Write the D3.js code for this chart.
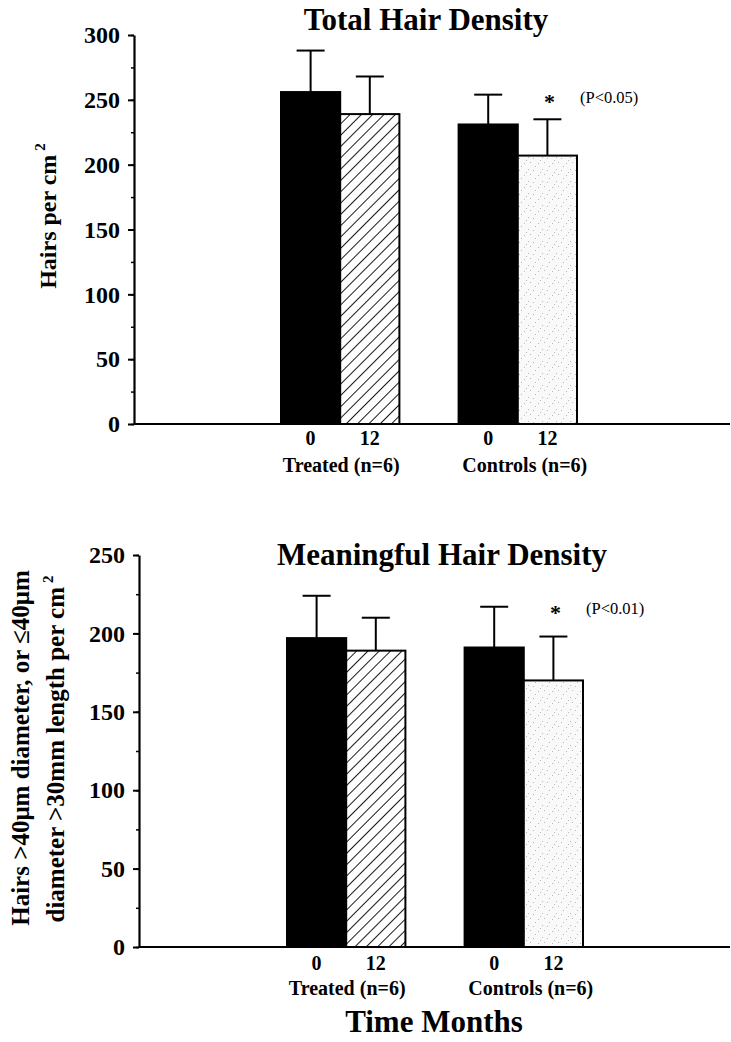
<!DOCTYPE html>
<html>
<head>
<meta charset="utf-8">
<script src="https://cdn.jsdelivr.net/npm/d3@7"></script>
<style>
  body { margin: 0; background: #fff; }
  svg text { font-family: "Liberation Serif", "Times New Roman", serif; }
</style>
</head>
<body>
<div id="chart"></div>
<script>
// slots along the x axis; "gap" keeps the space between the two groups
const slots = ['T0', 'T12', 'gap', 'C0', 'C12'];
const barKeys = ['T0', 'T12', 'C0', 'C12'];
const barStyles = ['solid', 'hatch', 'solid', 'dots'];
const monthLabels = ['0', '12', '0', '12'];
const groupLabels = ['Treated (n=6)', 'Controls (n=6)'];

const totalMeans = [256, 239, 231, 207];
const totalUpper = [288, 268, 254, 235];
const totalP = '(P<0.05)';

const meaningMeans = [197, 189, 191, 170];
const meaningUpper = [224, 210, 217, 198];
const meaningP = '(P<0.01)';

const W = 731, H = 1042;

const svg = d3.select('#chart').append('svg')
    .attr('width', W)
    .attr('height', H);

const defs = svg.append('defs');

// diagonal hatch
const hatch = defs.append('pattern')
    .attr('id', 'hatch')
    .attr('patternUnits', 'userSpaceOnUse')
    .attr('width', 8)
    .attr('height', 8)
    .attr('patternTransform', 'rotate(45)');
hatch.append('rect').attr('width', 8).attr('height', 8).attr('fill', '#fff');
hatch.append('line')
    .attr('x1', 0).attr('y1', 0).attr('x2', 0).attr('y2', 8)
    .attr('stroke', '#000').attr('stroke-width', 1.8);

// light stipple
const dots = defs.append('pattern')
    .attr('id', 'dots')
    .attr('patternUnits', 'userSpaceOnUse')
    .attr('width', 14)
    .attr('height', 12);
dots.append('rect').attr('width', 14).attr('height', 12).attr('fill', '#f9f9f9');
[[1, 2], [6, 7], [10, 1], [12, 6], [3, 10], [8, 4]].forEach(p => {
    dots.append('rect')
        .attr('x', p[0]).attr('y', p[1])
        .attr('width', 1).attr('height', 1)
        .attr('fill', '#b8b8b8');
});

const fillFor = s => s === 'solid' ? '#000' : s === 'hatch' ? 'url(#hatch)' : 'url(#dots)';

function drawPanel(cfg) {
    const g = svg.append('g');

    const x = d3.scaleBand()
        .domain(slots)
        .range(cfg.barRange)
        .paddingInner(0)
        .paddingOuter(0);

    const y = d3.scaleLinear()
        .domain([0, cfg.yMax])
        .range([cfg.y0, cfg.yTop]);

    // minor ticks every 25
    g.append('g')
        .attr('transform', `translate(${cfg.axisX},0)`)
        .call(d3.axisLeft(y).tickValues(d3.range(0, cfg.yMax + 1, 25)).tickSize(3).tickFormat(''))
        .call(a => a.select('.domain').remove())
        .call(a => a.selectAll('line').attr('stroke-width', 1.5));

    // major ticks every 50
    const yAxis = g.append('g')
        .attr('transform', `translate(${cfg.axisX},0)`)
        .call(d3.axisLeft(y).tickValues(d3.range(0, cfg.yMax + 1, 50)).tickSize(6).tickSizeOuter(0).tickPadding(8));
    yAxis.select('.domain').attr('stroke-width', 2.2);
    yAxis.selectAll('line').attr('stroke-width', 2);
    yAxis.selectAll('text')
        .attr('font-size', 24)
        .attr('font-weight', 'bold')
        .attr('fill', '#000');

    // bars
    g.selectAll('.bar')
        .data(barKeys)
      .enter().append('rect')
        .attr('class', 'bar')
        .attr('x', d => x(d))
        .attr('y', (d, i) => y(cfg.means[i]))
        .attr('width', x.bandwidth())
        .attr('height', (d, i) => y(0) - y(cfg.means[i]))
        .attr('fill', (d, i) => fillFor(barStyles[i]))
        .attr('stroke', '#000')
        .attr('stroke-width', 2);

    // error bars
    const eb = g.selectAll('.err')
        .data(barKeys)
      .enter().append('g')
        .attr('class', 'err')
        .attr('stroke', '#000')
        .attr('stroke-width', 2);
    eb.append('line')
        .attr('x1', d => x(d) + x.bandwidth() / 2)
        .attr('x2', d => x(d) + x.bandwidth() / 2)
        .attr('y1', (d, i) => y(cfg.means[i]))
        .attr('y2', (d, i) => y(cfg.upper[i]));
    eb.append('line')
        .attr('x1', d => x(d) + x.bandwidth() / 2 - 14)
        .attr('x2', d => x(d) + x.bandwidth() / 2 + 14)
        .attr('y1', (d, i) => y(cfg.upper[i]))
        .attr('y2', (d, i) => y(cfg.upper[i]));

    // x baseline
    g.append('line')
        .attr('x1', cfg.axisX).attr('x2', 730)
        .attr('y1', y(0)).attr('y2', y(0))
        .attr('stroke', '#000').attr('stroke-width', 2.2);

    // month labels
    g.selectAll('.month')
        .data(barKeys)
      .enter().append('text')
        .attr('x', d => x(d) + x.bandwidth() / 2)
        .attr('y', y(0) + cfg.monthDy)
        .attr('text-anchor', 'middle')
        .attr('font-size', 20)
        .attr('font-weight', 'bold')
        .text((d, i) => monthLabels[i]);

    // group labels
    g.selectAll('.grp')
        .data(groupLabels)
      .enter().append('text')
        .attr('x', (d, i) => i === 0 ? x('T12') + 1 : x('C0') + x.bandwidth() + 7)
        .attr('y', y(0) + cfg.grpDy)
        .attr('text-anchor', 'middle')
        .attr('font-size', 20)
        .attr('font-weight', 'bold')
        .text(d => d);

    // significance marker on controls 12
    g.append('text')
        .attr('x', x('C12') + x.bandwidth() / 2 + 2)
        .attr('y', cfg.starY)
        .attr('text-anchor', 'middle')
        .attr('font-size', 22)
        .attr('font-weight', 'bold')
        .text('*');
    g.append('text')
        .attr('x', x('C12') + x.bandwidth() + 3)
        .attr('y', cfg.pY)
        .attr('font-size', 16.5)
        .text(cfg.p);

    // title
    g.append('text')
        .attr('x', cfg.titleX)
        .attr('y', cfg.titleY)
        .attr('text-anchor', 'middle')
        .attr('font-size', 31)
        .attr('font-weight', 'bold')
        .text(cfg.title);

    return g;
}

drawPanel({
    title: 'Total Hair Density', titleX: 426, titleY: 30,
    yMax: 300, y0: 424, yTop: 35, axisX: 134,
    barRange: [281, 577],
    means: totalMeans, upper: totalUpper, p: totalP,
    starY: 109, pY: 103, monthDy: 21, grpDy: 48
});

drawPanel({
    title: 'Meaningful Hair Density', titleX: 442, titleY: 565,
    yMax: 250, y0: 947, yTop: 555, axisX: 139,
    barRange: [287, 583],
    means: meaningMeans, upper: meaningUpper, p: meaningP,
    starY: 620, pY: 614, monthDy: 23, grpDy: 48
});

// y labels
const yl1 = svg.append('text')
    .attr('transform', 'translate(56,216) rotate(-90)')
    .attr('text-anchor', 'middle')
    .attr('font-size', 24)
    .attr('font-weight', 'bold');
yl1.append('tspan').text('Hairs per cm');
yl1.append('tspan').attr('dx', 4).attr('dy', -11).attr('font-size', 15).text('2');

svg.append('text')
    .attr('transform', 'translate(29,748) rotate(-90)')
    .attr('text-anchor', 'middle')
    .attr('font-size', 25)
    .attr('font-weight', 'bold')
    .text('Hairs >40\u03bcm diameter, or \u226440\u03bcm');

const yl3 = svg.append('text')
    .attr('transform', 'translate(64,749) rotate(-90)')
    .attr('text-anchor', 'middle')
    .attr('font-size', 25)
    .attr('font-weight', 'bold');
yl3.append('tspan').text('diameter >30mm length per cm');
yl3.append('tspan').attr('dx', 4).attr('dy', -11).attr('font-size', 15).text('2');

// shared x title
svg.append('text')
    .attr('x', 434)
    .attr('y', 1032)
    .attr('text-anchor', 'middle')
    .attr('font-size', 31)
    .attr('font-weight', 'bold')
    .text('Time Months');
</script>
</body>
</html>
